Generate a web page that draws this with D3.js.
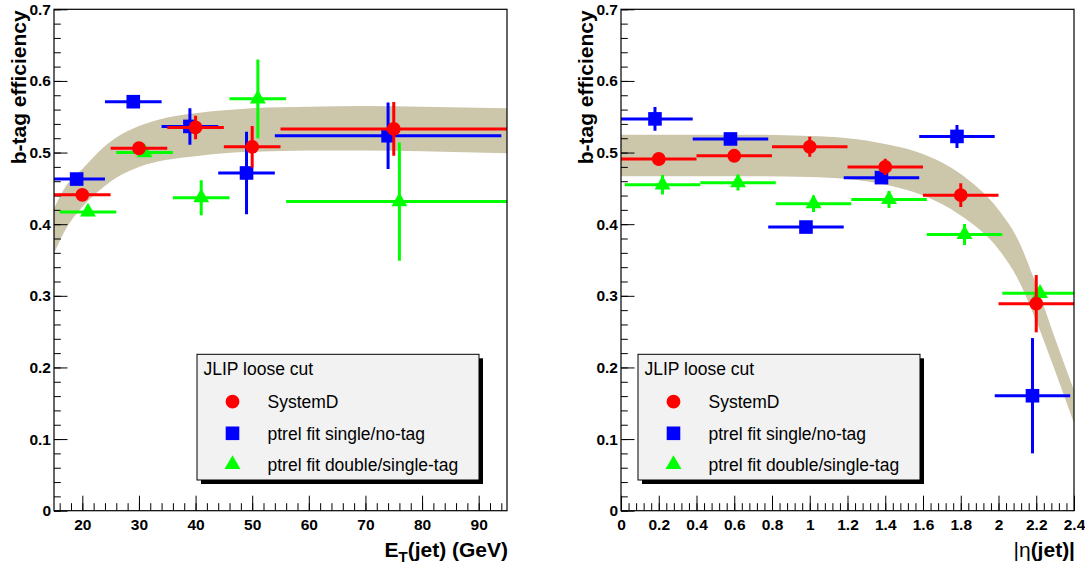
<!DOCTYPE html>
<html>
<head>
<meta charset="utf-8">
<script src="https://cdn.jsdelivr.net/npm/d3@7"></script>
<style>
body { margin: 0; background: #fff; }
svg { display: block; font-family: "Liberation Sans", Arial, Helvetica, sans-serif; }
</style>
</head>
<body>
<svg id="chart" width="1085" height="570"></svg>
<script>
// ---- E_T(jet) panel ----
const etSysX = [20, 30, 40, 50, 75];
const etSysXerr = [5, 5, 5, 5, 20];
const etSysY = [0.441, 0.506, 0.535, 0.508, 0.533];
const etSysYerr = [0.006, 0.006, 0.0165, 0.029, 0.0375];

const etSingleX = [19, 29, 39, 49, 74];
const etSingleXerr = [5, 5, 5, 5, 20];
const etSingleY = [0.463, 0.571, 0.5365, 0.4715, 0.5235];
const etSingleYerr = [0.006, 0.006, 0.0255, 0.0575, 0.0465];

const etDoubleX = [21, 31, 41, 51, 76];
const etDoubleXerr = [5, 5, 5, 5, 20];
const etDoubleY = [0.417, 0.500, 0.437, 0.575, 0.4315];
const etDoubleYerr = [0.006, 0.006, 0.0245, 0.055, 0.0825];

const etBandX = [15, 17, 20, 23, 26, 30, 35, 40, 45, 50, 60, 70, 80, 95];
const etBandHi = [0.422, 0.452, 0.477, 0.502, 0.521, 0.537, 0.549, 0.555, 0.559, 0.562, 0.564, 0.565, 0.564, 0.562];
const etBandLo = [0.359, 0.392, 0.424, 0.447, 0.465, 0.480, 0.490, 0.495, 0.499, 0.501, 0.503, 0.503, 0.502, 0.499];

// ---- |eta(jet)| panel ----
const etaSysX = [0.2, 0.6, 1.0, 1.4, 1.8, 2.2];
const etaSysXerr = [0.2, 0.2, 0.2, 0.2, 0.2, 0.2];
const etaSysY = [0.491, 0.4955, 0.508, 0.480, 0.4405, 0.289];
const etaSysYerr = [0.006, 0.006, 0.014, 0.0115, 0.0165, 0.04];

const etaSingleX = [0.18, 0.58, 0.98, 1.38, 1.78, 2.18];
const etaSingleXerr = [0.2, 0.2, 0.2, 0.2, 0.2, 0.2];
const etaSingleY = [0.547, 0.519, 0.396, 0.465, 0.5225, 0.1605];
const etaSingleYerr = [0.0165, 0.006, 0.006, 0.006, 0.016, 0.0805];

const etaDoubleX = [0.22, 0.62, 1.02, 1.42, 1.82, 2.22];
const etaDoubleXerr = [0.2, 0.2, 0.2, 0.2, 0.2, 0.2];
const etaDoubleY = [0.455, 0.458, 0.4285, 0.4345, 0.3856, 0.3035];
const etaDoubleYerr = [0.0135, 0.011, 0.0115, 0.012, 0.0145, 0.006];

const etaBandX = [0, 0.6, 1.0, 1.2, 1.4, 1.6, 1.8, 2.0, 2.1, 2.2, 2.3, 2.4];
const etaBandHi = [0.525, 0.525, 0.523, 0.520, 0.512, 0.498, 0.470, 0.420, 0.380, 0.315, 0.240, 0.168];
const etaBandLo = [0.467, 0.467, 0.466, 0.463, 0.455, 0.440, 0.412, 0.365, 0.325, 0.265, 0.195, 0.122];

// ---- axes / legend text ----
const yMajorTicks = [0, 0.1, 0.2, 0.3, 0.4, 0.5, 0.6, 0.7];
const etMajorTicks = [20, 30, 40, 50, 60, 70, 80, 90];
const etaMajorTicks = [0, 0.2, 0.4, 0.6, 0.8, 1, 1.2, 1.4, 1.6, 1.8, 2, 2.2, 2.4];
const yTitle = "b-tag efficiency";
const legendTitle = "JLIP loose cut";
const legendLabels = ["SystemD", "ptrel fit single/no-tag", "ptrel fit double/single-tag"];
const seriesColors = ["#ff0000", "#0000ff", "#00ff00"];

const svg = d3.select('#chart');
const bandColor = '#ccc6ab';
const fTop = 9.3, fBottom = 510.7;

const shapes = [
    d3.symbol().type(d3.symbolCircle).size(150),
    d3.symbol().type(d3.symbolSquare).size(185),
    d3.symbol().type(d3.symbolTriangle).size(110)
];

function range(a, b, step) {
    const out = [];
    for (let v = a; v <= b + step / 1000; v += step) out.push(+v.toFixed(4));
    return out;
}

function drawSeries(g, x, y, xs, xerr, ys, yerr, color, shape, clipId) {
    const pts = xs.map((v, i) => ({ x: v, xe: xerr[i], y: ys[i], ye: yerr[i] }));
    const bars = g.append('g').attr('clip-path', 'url(#' + clipId + ')');
    bars.selectAll('line.h').data(pts).enter().append('line')
        .attr('x1', d => x(d.x - d.xe)).attr('x2', d => x(d.x + d.xe))
        .attr('y1', d => y(d.y)).attr('y2', d => y(d.y))
        .attr('stroke', color).attr('stroke-width', 3);
    bars.selectAll('line.v').data(pts).enter().append('line')
        .attr('x1', d => x(d.x)).attr('x2', d => x(d.x))
        .attr('y1', d => y(d.y - d.ye)).attr('y2', d => y(d.y + d.ye))
        .attr('stroke', color).attr('stroke-width', 3);
    g.selectAll(null).data(pts).enter().append('path')
        .attr('d', shape)
        .attr('transform', d => 'translate(' + x(d.x) + ',' + y(d.y) + ')')
        .attr('fill', color);
}

function drawPanel(p) {
    const x = d3.scaleLinear().domain(p.xDomain).range([p.left, p.right]);
    const y = d3.scaleLinear().domain([0, 0.7]).range([fBottom, fTop]);
    const g = svg.append('g');

    g.append('clipPath').attr('id', p.id)
        .append('rect').attr('x', p.left).attr('y', fTop)
        .attr('width', p.right - p.left).attr('height', fBottom - fTop);

    // fit band
    const bandPts = p.bandX.map((v, i) => ({ x: v, lo: p.bandLo[i], hi: p.bandHi[i] }));
    g.append('path').datum(bandPts)
        .attr('clip-path', 'url(#' + p.id + ')')
        .attr('fill', bandColor)
        .attr('d', d3.area().x(d => x(d.x)).y0(d => y(d.lo)).y1(d => y(d.hi)).curve(d3.curveMonotoneX));

    // axes, ROOT style ticks inside the frame
    const yMinor = g.append('g').attr('transform', 'translate(' + p.left + ',0)')
        .call(d3.axisLeft(y).tickValues(range(0, 0.7, 0.02)).tickSize(-6.8).tickFormat(''));
    const yMajor = g.append('g').attr('transform', 'translate(' + p.left + ',0)')
        .call(d3.axisLeft(y).tickValues(yMajorTicks).tickSize(-13.5).tickPadding(3)
            .tickFormat(d => d === 0 ? '0' : d3.format('.1f')(d)));
    const xMinor = g.append('g').attr('transform', 'translate(0,' + fBottom + ')')
        .call(d3.axisBottom(x).tickValues(p.minorTicks).tickSize(-7.5).tickFormat(''));
    const xMajor = g.append('g').attr('transform', 'translate(0,' + fBottom + ')')
        .call(d3.axisBottom(x).tickValues(p.majorTicks).tickSize(-15).tickPadding(8)
            .tickFormat(d => String(+d.toFixed(1))));
    [yMinor, yMajor, xMinor, xMajor].forEach(a => {
        a.select('.domain').remove();
        a.selectAll('line').attr('stroke', '#000');
        a.selectAll('text').attr('fill', '#000').attr('font-size', 15.5).attr('font-weight', 'bold')
            .attr('font-family', '"Liberation Sans", Arial, sans-serif');
    });

    // data
    drawSeries(g, x, y, p.single[0], p.single[1], p.single[2], p.single[3], seriesColors[1], shapes[1], p.id);
    drawSeries(g, x, y, p.double[0], p.double[1], p.double[2], p.double[3], seriesColors[2], shapes[2], p.id);
    drawSeries(g, x, y, p.sys[0], p.sys[1], p.sys[2], p.sys[3], seriesColors[0], shapes[0], p.id);

    // frame
    g.append('rect').attr('x', p.left).attr('y', fTop)
        .attr('width', p.right - p.left).attr('height', fBottom - fTop)
        .attr('fill', 'none').attr('stroke', '#000').attr('stroke-width', 1.2);

    // titles
    g.append('text')
        .attr('transform', 'translate(' + (p.left - 28) + ',' + (fTop + 1) + ') rotate(-90)')
        .attr('text-anchor', 'end').attr('font-size', 21).attr('font-weight', 'bold')
        .text(yTitle);
    p.xTitle(g.append('text').attr('x', p.right + 1).attr('y', 557)
        .attr('text-anchor', 'end').attr('font-size', 21).attr('font-weight', 'bold'));

    // legend
    const lx = p.legendX, ly = 354.3, lw = 282, lh = 125.7;
    const leg = g.append('g');
    leg.append('rect').attr('x', lx + 4).attr('y', ly + 4).attr('width', lw).attr('height', lh).attr('fill', '#000');
    leg.append('rect').attr('x', lx).attr('y', ly).attr('width', lw).attr('height', lh)
        .attr('fill', '#f2f2f2').attr('stroke', '#000').attr('stroke-width', 1);
    leg.append('text').attr('x', lx + 6.5).attr('y', ly + 21).attr('font-size', 17.5).text(legendTitle);
    const rowY = [401.7, 433.3, 464.5];
    legendLabels.forEach((lab, i) => {
        leg.append('path').attr('d', shapes[i]).attr('fill', seriesColors[i])
            .attr('transform', 'translate(' + (lx + 35.5) + ',' + rowY[i] + ')');
        leg.append('text').attr('x', lx + 70.5).attr('y', rowY[i] + 6.5).attr('font-size', 17.5).text(lab);
    });
}

drawPanel({
    id: 'clipEt', left: 54, right: 507, xDomain: [15, 95],
    majorTicks: etMajorTicks, minorTicks: range(16, 94, 2),
    bandX: etBandX, bandLo: etBandLo, bandHi: etBandHi,
    sys: [etSysX, etSysXerr, etSysY, etSysYerr],
    single: [etSingleX, etSingleXerr, etSingleY, etSingleYerr],
    double: [etDoubleX, etDoubleXerr, etDoubleY, etDoubleYerr],
    legendX: 197,
    xTitle: t => {
        t.append('tspan').text('E');
        t.append('tspan').attr('font-size', 15).attr('dy', 5).text('T');
        t.append('tspan').attr('dy', -5).text('(jet) (GeV)');
    }
});

drawPanel({
    id: 'clipEta', left: 621, right: 1074, xDomain: [0, 2.4],
    majorTicks: etaMajorTicks, minorTicks: range(0, 2.4, 0.04),
    bandX: etaBandX, bandLo: etaBandLo, bandHi: etaBandHi,
    sys: [etaSysX, etaSysXerr, etaSysY, etaSysYerr],
    single: [etaSingleX, etaSingleXerr, etaSingleY, etaSingleYerr],
    double: [etaDoubleX, etaDoubleXerr, etaDoubleY, etaDoubleYerr],
    legendX: 638,
    xTitle: t => {
        t.append('tspan').attr('font-weight', 'normal').text('|\u03b7');
        t.append('tspan').text('(jet)|');
    }
});
</script>
</body>
</html>
